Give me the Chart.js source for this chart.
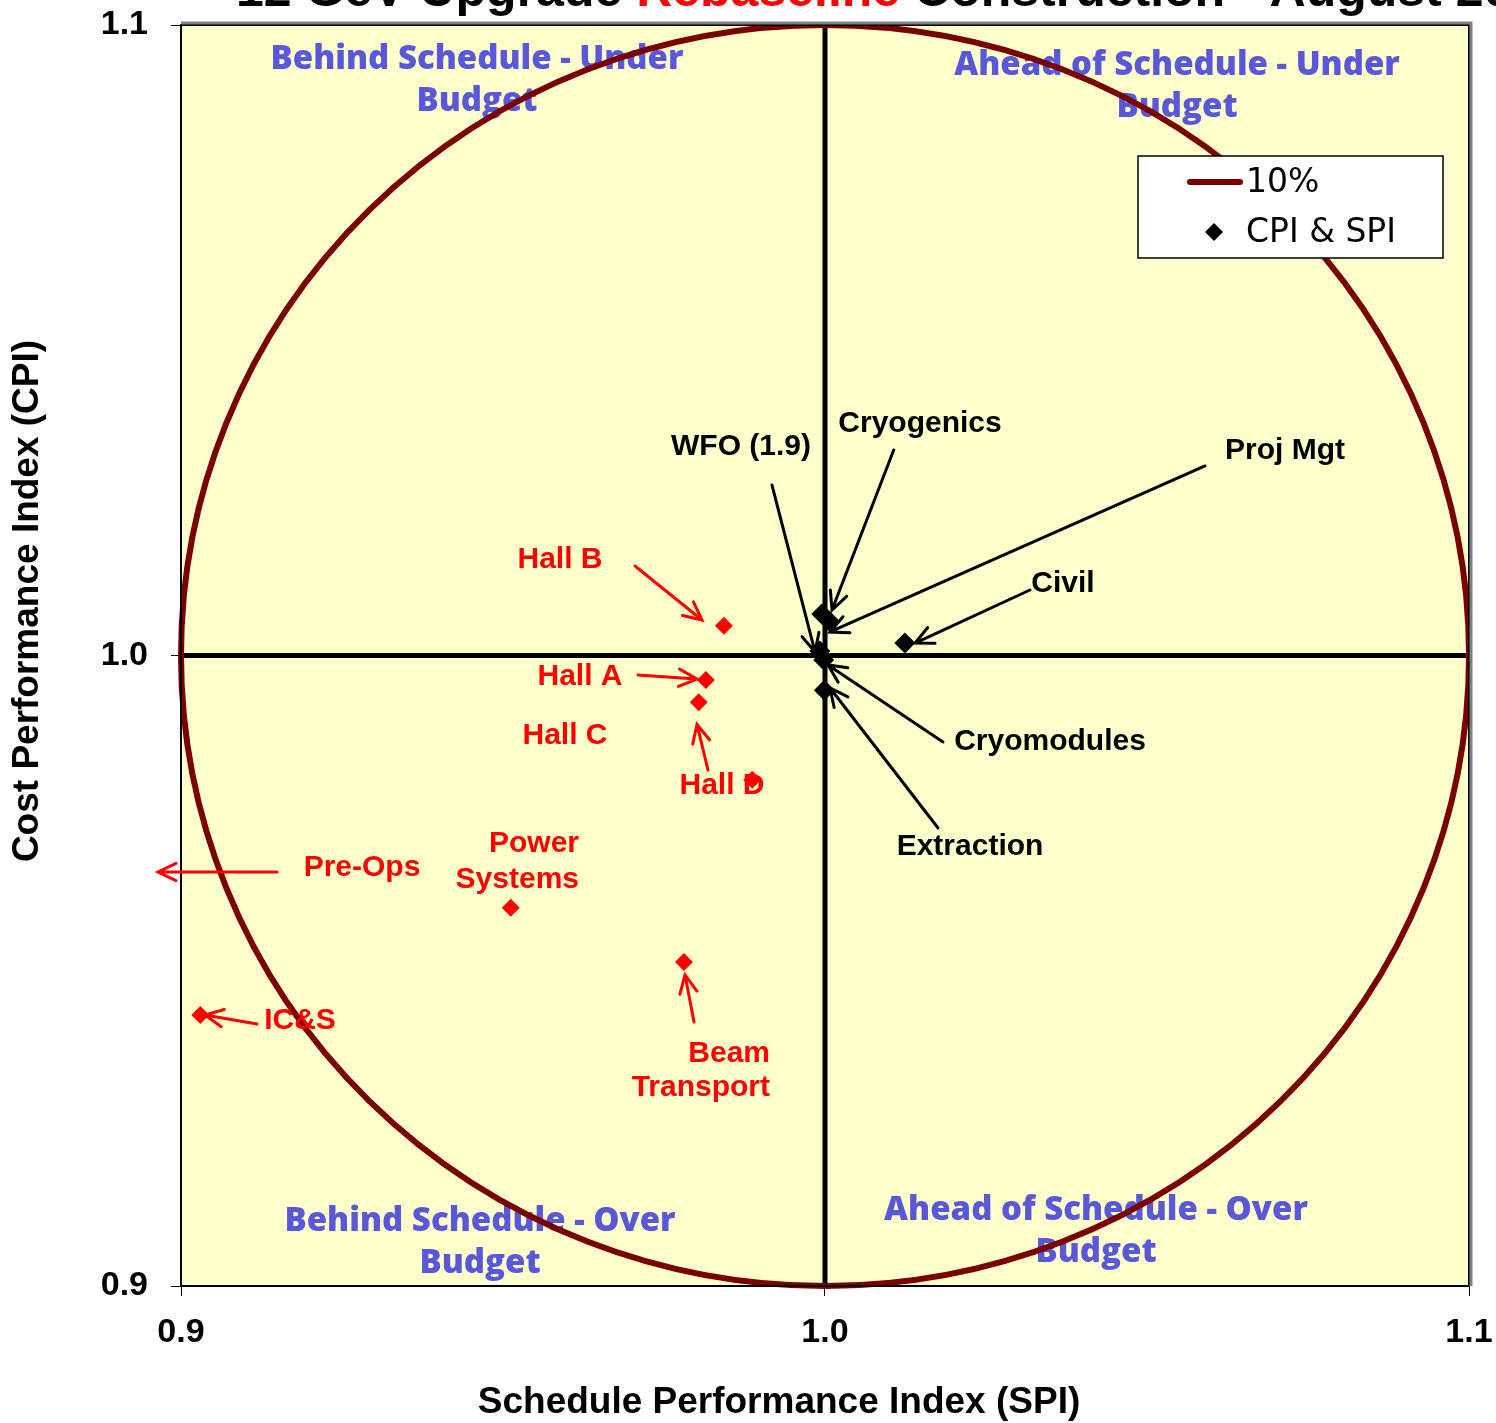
<!DOCTYPE html>
<html><head><meta charset="utf-8">
<script src="https://cdn.jsdelivr.net/npm/chart.js@4/dist/chart.umd.min.js"></script>
<style>html,body{margin:0;padding:0;background:#fff;overflow:hidden}#wrap{width:1496px;height:1423px;position:relative}</style>
</head><body><div id="wrap"><canvas id="c" width="1496" height="1423"></canvas></div>
<script>
// ---- data ----
const categories = ['Hall B','Hall A','Hall D','Hall C','Power Systems','Beam Transport','IC&S','Pre-Ops','Cryogenics','Proj Mgt','WFO (1.9)','Cryomodules','Extraction','Civil'];
const spiValues  = [0.9843,0.9815,0.9804,0.9887,0.9512,0.9781,0.9030,0.8850,0.9995,1.0006,0.9992,0.9998,0.9999,1.0124];
const cpiValues  = [1.0047,0.9961,0.9926,0.9803,0.9600,0.9514,0.9430,0.9657,1.0066,1.0055,1.0007,0.9993,0.9945,1.0020];
const xTickValues = [0.9,1.0,1.1];
const xTickLabels = ['0.9','1.0','1.1'];
const yTickValues = [0.9,1.0,1.1];
const yTickLabels = ['0.9','1.0','1.1'];
const circleCenter = [1.0,1.0];
const circleRadius = 0.1;
const seriesNames = ['10%','CPI & SPI'];
const titleParts = ['12 GeV Upgrade ','Rebaseline',' Construction - August 2011'];
const xTitle = 'Schedule Performance Index (SPI)';
const yTitle = 'Cost Performance Index (CPI)';
const behindThreshold = 0.995;

// ---- annotation layout (data units) ----
const quadrantLabels = [
  {lines:['Behind Schedule - Under','Budget'], x:0.94596, y:1.09445},
  {lines:['Ahead of Schedule - Under','Budget'], x:1.05466, y:1.09350},
  {lines:['Behind Schedule - Over','Budget'], x:0.94643, y:0.91015},
  {lines:['Ahead of Schedule - Over','Budget'], x:1.04208, y:0.91189}
];
const redLabels = [
  {lines:['Hall B'], x:0.95885, y:1.01515, align:'center'},
  {lines:['Hall A'], x:0.96196, y:0.99659, align:'center'},
  {lines:['Hall C'], x:0.95963, y:0.98723, align:'center'},
  {lines:['Hall D'], x:0.98401, y:0.97930, align:'center'},
  {lines:['Power','Systems'], x:0.96180, y:0.97010, align:'right', lh:36},
  {lines:['Pre-Ops'], x:0.92811, y:0.96630, align:'center'},
  {lines:['IC&S'], x:0.91848, y:0.94203, align:'center'},
  {lines:['Beam','Transport'], x:0.99146, y:0.93680, align:'right', lh:34}
];
const blackLabels = [
  {lines:['Cryogenics'], x:1.01475, y:1.03672, align:'center'},
  {lines:['WFO (1.9)'], x:0.98696, y:1.03307, align:'center'},
  {lines:['Proj Mgt'], x:1.07143, y:1.03243, align:'center'},
  {lines:['Civil'], x:1.03696, y:1.01134, align:'center'},
  {lines:['Cryomodules'], x:1.03494, y:0.98628, align:'center'},
  {lines:['Extraction'], x:1.02252, y:0.96963, align:'center'}
];
const redArrows = [
  [0.97050,1.01419,0.98090,1.00563],
  [0.97096,0.99691,0.98012,0.99627],
  [0.98183,0.98184,0.98012,0.98906],
  [0.91491,0.96566,0.89643,0.96566],
  [0.91180,0.94155,0.90373,0.94298],
  [0.97966,0.94187,0.97826,0.94933]
];
const blackArrows = [
  [1.01067,1.03259,1.00109,1.00722],
  [0.99177,1.02704,0.99845,1.00056],
  [1.05901,1.03006,1.00078,1.00373],
  [1.03183,1.01039,1.01398,1.00198],
  [1.01832,0.98628,1.00047,0.99849],
  [1.01755,0.97264,1.00078,0.99485]
];

const RED = '#ff0000', DARKRED = '#7a0000', BLUE = '#5858d8', PLOTBG = '#ffffcc';
const points = spiValues.map((v,i)=>({x:v, y:cpiValues[i], name:categories[i]}));

function drawLines(ctx, item, sx, sy, font, color, lh){
  ctx.save();
  ctx.font = font; ctx.fillStyle = color;
  ctx.textAlign = item.align || 'center'; ctx.textBaseline = 'middle';
  const px = sx.getPixelForValue(item.x), py = sy.getPixelForValue(item.y);
  item.lines.forEach((t,i)=>ctx.fillText(t, px, py + i*(item.lh||lh)));
  ctx.restore();
}
function drawArrow(ctx, a, sx, sy, color){
  const x1=sx.getPixelForValue(a[0]), y1=sy.getPixelForValue(a[1]);
  const x2=sx.getPixelForValue(a[2]), y2=sy.getPixelForValue(a[3]);
  const ang=Math.atan2(y2-y1,x2-x1), L=20, sp=0.45;
  ctx.save();
  ctx.strokeStyle=color; ctx.lineWidth=3; ctx.lineCap='round';
  ctx.beginPath(); ctx.moveTo(x1,y1); ctx.lineTo(x2,y2);
  ctx.moveTo(x2-L*Math.cos(ang-sp), y2-L*Math.sin(ang-sp)); ctx.lineTo(x2,y2);
  ctx.lineTo(x2-L*Math.cos(ang+sp), y2-L*Math.sin(ang+sp));
  ctx.stroke(); ctx.restore();
}
function zeroPad(s){ s.paddingTop=0; s.paddingBottom=0; s.paddingLeft=0; s.paddingRight=0; }

const decor = {
  id:'decor',
  beforeDraw(chart){
    const {ctx, chartArea:a} = chart;
    ctx.save();
    ctx.fillStyle='#fff'; ctx.fillRect(0,0,chart.width,chart.height);
    ctx.fillStyle=PLOTBG; ctx.fillRect(a.left,a.top,a.right-a.left,a.bottom-a.top);
    ctx.restore();
  },
  beforeDatasetsDraw(chart){
    const {ctx, chartArea:a, scales:{x:sx,y:sy}} = chart;
    quadrantLabels.forEach(q=>drawLines(ctx,q,sx,sy,'800 33px "Open Sans"',BLUE,42));
    ctx.save();
    ctx.strokeStyle='#000'; ctx.lineWidth=5;
    const cx=sx.getPixelForValue(circleCenter[0]), cy=sy.getPixelForValue(circleCenter[1]);
    ctx.beginPath(); ctx.moveTo(cx,a.top); ctx.lineTo(cx,a.bottom);
    ctx.moveTo(a.left,cy); ctx.lineTo(a.right,cy); ctx.stroke();
    const rx=sx.getPixelForValue(circleCenter[0]+circleRadius)-cx;
    const ry=cy-sy.getPixelForValue(circleCenter[1]+circleRadius);
    ctx.strokeStyle=DARKRED; ctx.lineWidth=6;
    ctx.beginPath(); ctx.ellipse(cx,cy,rx,ry,0,0,Math.PI*2); ctx.stroke();
    // frame
    ctx.strokeStyle='#000'; ctx.lineWidth=2;
    ctx.strokeRect(a.left,a.top,a.right-a.left,a.bottom-a.top);
    ctx.strokeStyle='#808080'; ctx.lineWidth=3;
    ctx.beginPath(); ctx.moveTo(a.left,a.top-2); ctx.lineTo(a.right+2,a.top-2); ctx.lineTo(a.right+2,a.bottom); ctx.stroke();
    ctx.restore();
  },
  afterDatasetsDraw(chart){
    const {ctx, scales:{x:sx,y:sy}} = chart;
    redLabels.forEach(l=>drawLines(ctx,l,sx,sy,'bold 30px "Liberation Sans"',RED,36));
    blackLabels.forEach(l=>drawLines(ctx,l,sx,sy,'bold 30px "Liberation Sans"','#000',36));
    redArrows.forEach(a=>drawArrow(ctx,a,sx,sy,RED));
    blackArrows.forEach(a=>drawArrow(ctx,a,sx,sy,'#000'));
  },
  afterDraw(chart){
    const {ctx, chartArea:a} = chart;
    ctx.save();
    // legend
    const bx=a.right-331, by=a.top+131, bw=305, bh=102;
    ctx.fillStyle='#fff'; ctx.fillRect(bx,by,bw,bh);
    ctx.strokeStyle='#000'; ctx.lineWidth=1.5; ctx.strokeRect(bx,by,bw,bh);
    ctx.strokeStyle=DARKRED; ctx.lineWidth=6; ctx.lineCap='round';
    ctx.beginPath(); ctx.moveTo(bx+52,by+26); ctx.lineTo(bx+102,by+26); ctx.stroke();
    ctx.fillStyle='#000';
    const dx=bx+76, dy=by+76, r=9;
    ctx.beginPath(); ctx.moveTo(dx,dy-r); ctx.lineTo(dx+r,dy); ctx.lineTo(dx,dy+r); ctx.lineTo(dx-r,dy); ctx.closePath(); ctx.fill();
    ctx.font='33px "DejaVu Sans"'; ctx.textAlign='left'; ctx.textBaseline='middle';
    ctx.fillText(seriesNames[0], bx+108, by+27);
    ctx.fillText(seriesNames[1], bx+108, by+77);
    // title
    ctx.font='bold 50px "Liberation Sans"'; ctx.textBaseline='alphabetic';
    let tx=236; const cols=['#000',RED,'#000'];
    titleParts.forEach((t,i)=>{ctx.fillStyle=cols[i]; ctx.fillText(t,tx,6); tx+=ctx.measureText(t).width;});
    // axis titles
    ctx.fillStyle='#000'; ctx.font='bold 37px "Liberation Sans"'; ctx.textAlign='center'; ctx.textBaseline='middle';
    ctx.fillText(xTitle, 779, 1403);
    ctx.translate(28,601); ctx.rotate(-Math.PI/2);
    ctx.fillText(yTitle,0,0);
    ctx.restore();
  }
};

new Chart(document.getElementById('c'), {
  type:'scatter',
  data:{datasets:[{
    label:seriesNames[1], data:points,
    pointStyle:'rectRot',
    pointRadius:c=>c.raw && c.raw.x<behindThreshold?9:10.5,
    pointHoverRadius:c=>c.raw && c.raw.x<behindThreshold?9:10.5,
    pointBackgroundColor:c=>c.raw && c.raw.x<behindThreshold?RED:'#000',
    pointBorderColor:c=>c.raw && c.raw.x<behindThreshold?RED:'#000',
    pointBorderWidth:0
  }]},
  options:{
    responsive:false, animation:false, devicePixelRatio:1,
    layout:{padding:{left:0,top:25,right:27,bottom:0}},
    plugins:{legend:{display:false}, title:{display:false}, tooltip:{enabled:false}},
    events:[],
    scales:{
      x:{type:'linear', min:0.9, max:1.1,
        afterBuildTicks:s=>{s.ticks=xTickValues.map(v=>({value:v}));},
        afterFit:s=>{s.height=137; zeroPad(s);},
        ticks:{callback:(v,i)=>xTickLabels[i], font:{family:'"Liberation Sans"',size:34,weight:'bold'}, color:'#000', padding:16, maxRotation:0, autoSkip:false},
        grid:{drawOnChartArea:false, tickLength:10, color:'#000', lineWidth:1},
        border:{display:false}},
      y:{type:'linear', min:0.9, max:1.1,
        afterBuildTicks:s=>{s.ticks=yTickValues.map(v=>({value:v}));},
        afterFit:s=>{s.width=181; zeroPad(s);},
        ticks:{callback:(v,i)=>yTickLabels[i], font:{family:'"Liberation Sans"',size:34,weight:'bold'}, color:'#000', padding:23, autoSkip:false},
        grid:{drawOnChartArea:false, tickLength:10, color:'#000', lineWidth:1},
        border:{display:false}}
    }
  },
  plugins:[decor]
});
</script></body></html>
